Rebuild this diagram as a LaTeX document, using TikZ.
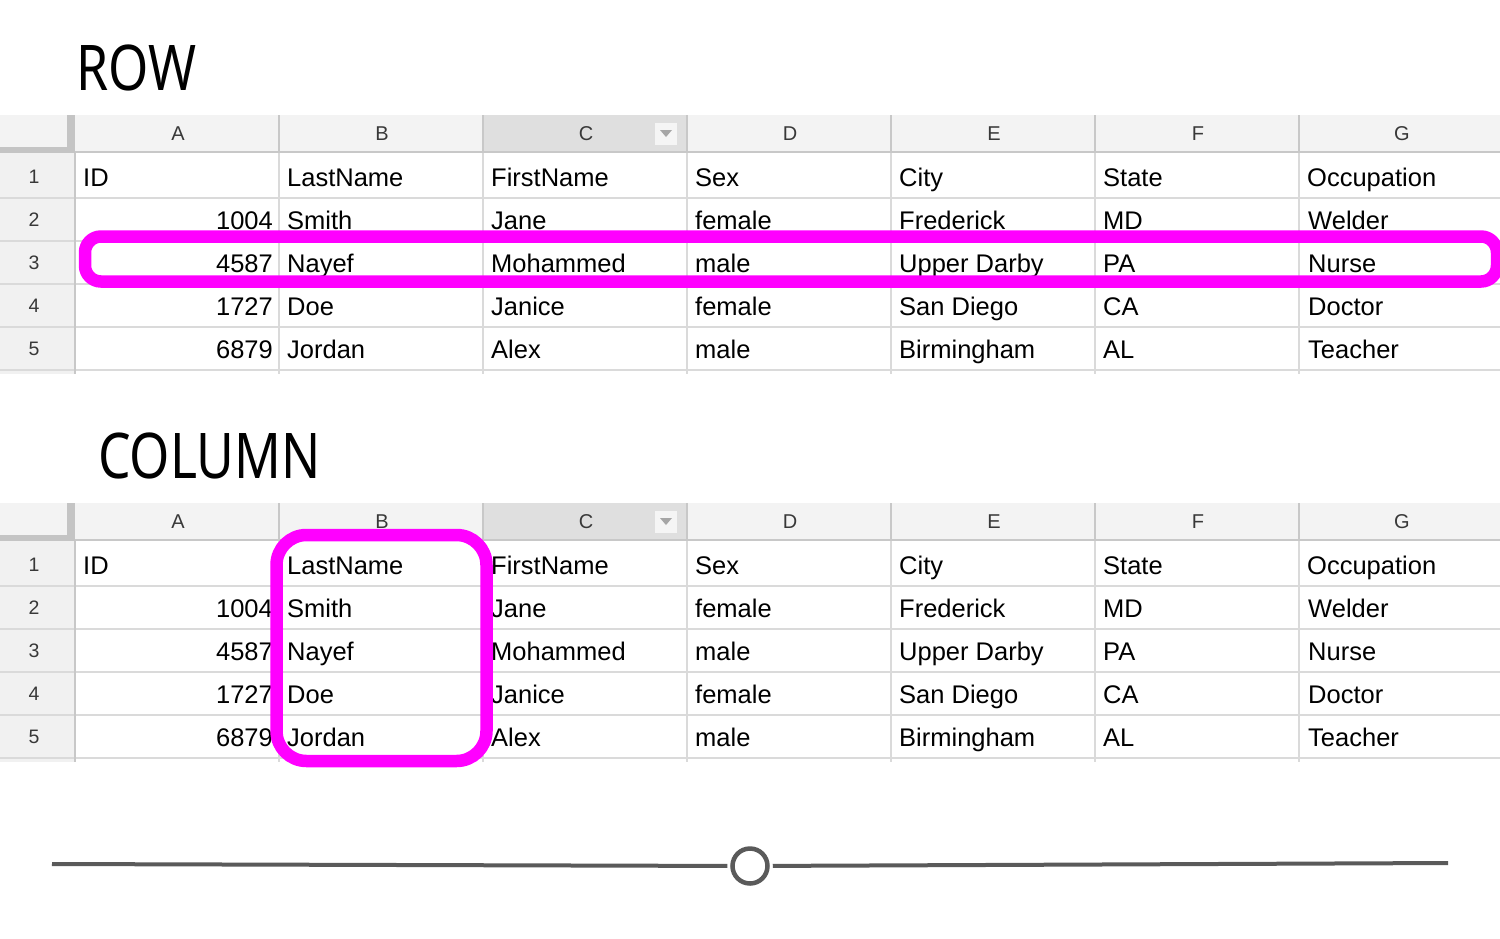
\documentclass[tikz,border=0pt]{standalone}
\usepackage{fontspec}
\setmainfont{Liberation Sans}
\newfontfamily\titlefont[FakeStretch=0.82]{Noto Sans}
\definecolor{gridc}{HTML}{DADADA}
\definecolor{headbg}{HTML}{F3F3F3}
\definecolor{selbg}{HTML}{DFDFDF}
\definecolor{rowbg}{HTML}{F1F1F1}
\definecolor{frozen}{HTML}{C4C4C4}
\definecolor{headl}{HTML}{C8C8C8}
\definecolor{mag}{HTML}{FF00FF}
\definecolor{slider}{HTML}{5A5A5A}
\tikzset{
  cell/.style={anchor=base west, inner sep=0pt, font=\fontsize{25.5}{25.5}\selectfont, text=black},
  numcell/.style={anchor=base east, inner sep=0pt, font=\fontsize{25.5}{25.5}\selectfont, text=black},
  colhead/.style={anchor=base, inner sep=0pt, font=\fontsize{20}{20}\selectfont, text=black!78},
  rowhead/.style={anchor=base, inner sep=0pt, font=\fontsize{19.5}{19.5}\selectfont, text=black!78},
  title/.style={anchor=base west, inner sep=0pt, font=\titlefont\fontsize{63}{63}\selectfont, text=black},
  gridl/.style={draw=gridc, line width=1.6pt},
  headline/.style={draw=headl, line width=1.6pt},
  hilite/.style={draw=mag, line width=12.5pt},
  sliderl/.style={draw=slider, line width=4pt},
}
\newcommand\sheet[1]{%
  \fill[headbg] (0,115) rectangle (1500,153);
  \fill[selbg] (483,115) rectangle (687,153);
  \fill[rowbg] (0,153) rectangle (75,374);
  \foreach \y in {198,241,284,327,370} \draw[gridl] (0,\y) -- (1500,\y);
  \foreach \x in {279,483,687,891,1095,1299} {
    \draw[headline] (\x,115) -- (\x,153);
    \draw[gridl] (\x,153) -- (\x,374);
  }
  \draw[headline] (75,152) -- (1500,152);
  \draw[headline] (75,153) -- (75,374);
  \fill[frozen] (0,147) rectangle (75,153);
  \fill[frozen] (67,115) rectangle (75,153);
  \fill[white!96!black] (655,123) rectangle (677,145);
  \fill[black!35] (660,130) -- (672,130) -- (666,137) -- cycle;
  \foreach \l [count=\i] in {A,B,C,D,E,F,G}
    \node[colhead] (#1-h\i) at ({178+204*(\i-1)},140) {\l};
  \foreach \r in {1,...,5}
    \node[rowhead] (#1-n\r) at (34,{183+43*(\r-1)}) {\r};
  \foreach \t [count=\i] in {ID,LastName,FirstName,Sex,City,State,Occupation}
    \node[cell] (#1-r1-c\i) at ({83+204*(\i-1)},186) {\t};
  \foreach \r/\a/\b/\c/\d/\e/\f/\g in {
      2/1004/Smith/Jane/female/Frederick/MD/Welder,
      3/4587/Nayef/Mohammed/male/Upper Darby/PA/Nurse,
      4/1727/Doe/Janice/female/San Diego/CA/Doctor,
      5/6879/Jordan/Alex/male/Birmingham/AL/Teacher} {
    \node[numcell] (#1-r\r-c1) at (273,{186+43*(\r-1)}) {\a};
    \node[cell] (#1-r\r-c2) at (287,{186+43*(\r-1)}) {\b};
    \node[cell] (#1-r\r-c3) at (491,{186+43*(\r-1)}) {\c};
    \node[cell] (#1-r\r-c4) at (695,{186+43*(\r-1)}) {\d};
    \node[cell] (#1-r\r-c5) at (899,{186+43*(\r-1)}) {\e};
    \node[cell] (#1-r\r-c6) at (1103,{186+43*(\r-1)}) {\f};
    \node[cell] (#1-r\r-c7) at (1308,{186+43*(\r-1)}) {\g};
  }
}
\begin{document}
\begin{tikzpicture}[x=1pt,y=-1pt]
  \useasboundingbox (0,0) rectangle (1500,938);
  \fill[white] (0,0) rectangle (1500,938);
  \begin{scope}
    \clip (0,0) rectangle (1500,938);
    \node[title] (rowtitle) at (76,90) {ROW};
    \sheet{top}
    \draw[hilite, rounded corners=16pt] (85,236.5) rectangle (1497,281.5);
    \node[title] (coltitle) at (98,478) {COLUMN};
    \begin{scope}[shift={(0,388)}]
      \sheet{bot}
    \end{scope}
    \draw[hilite, rounded corners=30pt] (276.5,535) rectangle (486.5,761);
    \node[circle, draw=slider, line width=4.5pt, minimum size=35pt, inner sep=0pt] (knob) at (750,866) {};
    \coordinate (sl) at (52,864);
    \coordinate (sr) at (1448,863);
    \draw[sliderl, shorten >=3pt] (sl) -- (knob);
    \draw[sliderl, shorten >=3pt] (sr) -- (knob);
  \end{scope}
\end{tikzpicture}
\end{document}
